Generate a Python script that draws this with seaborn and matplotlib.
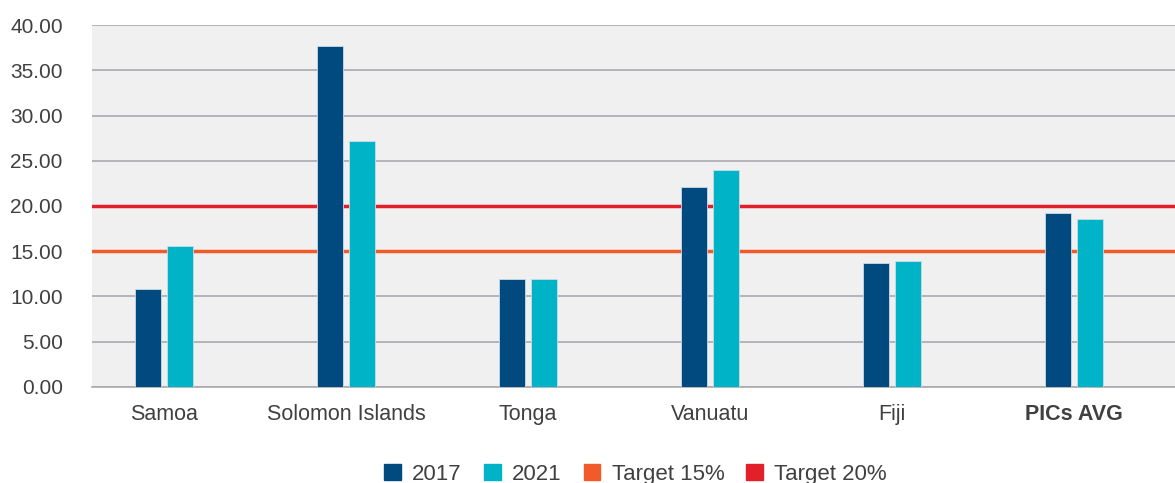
import matplotlib.pyplot as plt
import seaborn as sns
import pandas as pd
from matplotlib.patches import Patch

# -----------------------------
# data
# -----------------------------
countries = ["Samoa", "Solomon Islands", "Tonga", "Vanuatu", "Fiji", "PICs AVG"]
years = ["2017", "2021"]
values_2017 = [10.83, 37.68, 11.93, 22.10, 13.65, 19.28]
values_2021 = [15.58, 27.18, 11.93, 23.98, 13.87, 18.56]
target_15 = 15
target_20 = 20

df = pd.DataFrame({
    "country": countries * 2,
    "year": [years[0]] * len(countries) + [years[1]] * len(countries),
    "value": values_2017 + values_2021,
})

c2017 = "#004A80"
c2021 = "#00B3C7"
c15 = "#F15A29"
c20 = "#E3202A"
txt = "#404040"

sns.set_style("white")
plt.rcParams["font.family"] = ["Liberation Sans", "DejaVu Sans"]

fig = plt.figure(figsize=(11.75, 4.83), dpi=100)
ax = fig.add_axes([0.0783, 0.199, 0.9217, 0.749])
ax.set_facecolor("#F0F0F0")

sns.barplot(data=df, x="country", y="value", hue="year", order=countries,
            hue_order=years, palette=[c2017, c2021], saturation=1,
            width=0.35, gap=0.2, edgecolor="#C9DCE6", linewidth=0.6,
            ax=ax, legend=False, zorder=3)

# gridlines
ax.set_ylim(0, 40)
ax.set_xlim(-0.396, 5.555)
ax.set_yticks(range(0, 45, 5))
ax.set_yticklabels([f"{v:.2f}" for v in range(0, 45, 5)])
ax.yaxis.grid(True, color="#A9A9B0", linewidth=1.2, zorder=0)
ax.set_axisbelow(True)

# target lines
ax.axhline(target_15, color=c15, linewidth=2.5, zorder=2)
ax.axhline(target_20, color=c20, linewidth=2.5, zorder=2)

for s in ["top", "right", "left"]:
    ax.spines[s].set_visible(False)
ax.spines["bottom"].set_color("#A9A9B0")
ax.spines["bottom"].set_linewidth(1.2)

ax.set_xlabel("")
ax.set_ylabel("")
ax.tick_params(axis="y", length=0, labelsize=15, colors=txt, pad=21)
ax.tick_params(axis="x", length=0, labelsize=15.5, colors=txt, pad=12)
ax.get_xticklabels()[-1].set_fontweight("bold")

handles = [Patch(color=c2017), Patch(color=c2021), Patch(color=c15), Patch(color=c20)]
labels = ["2017", "2021", "Target 15%", "Target 20%"]
fig.legend(handles, labels, loc="lower center", bbox_to_anchor=(0.541, -0.045),
           ncol=4, frameon=False, fontsize=16, handlelength=0.75, handleheight=0.75,
           handletextpad=0.5, columnspacing=1.0, labelcolor=txt)

fig.savefig("out.png", dpi=100)
